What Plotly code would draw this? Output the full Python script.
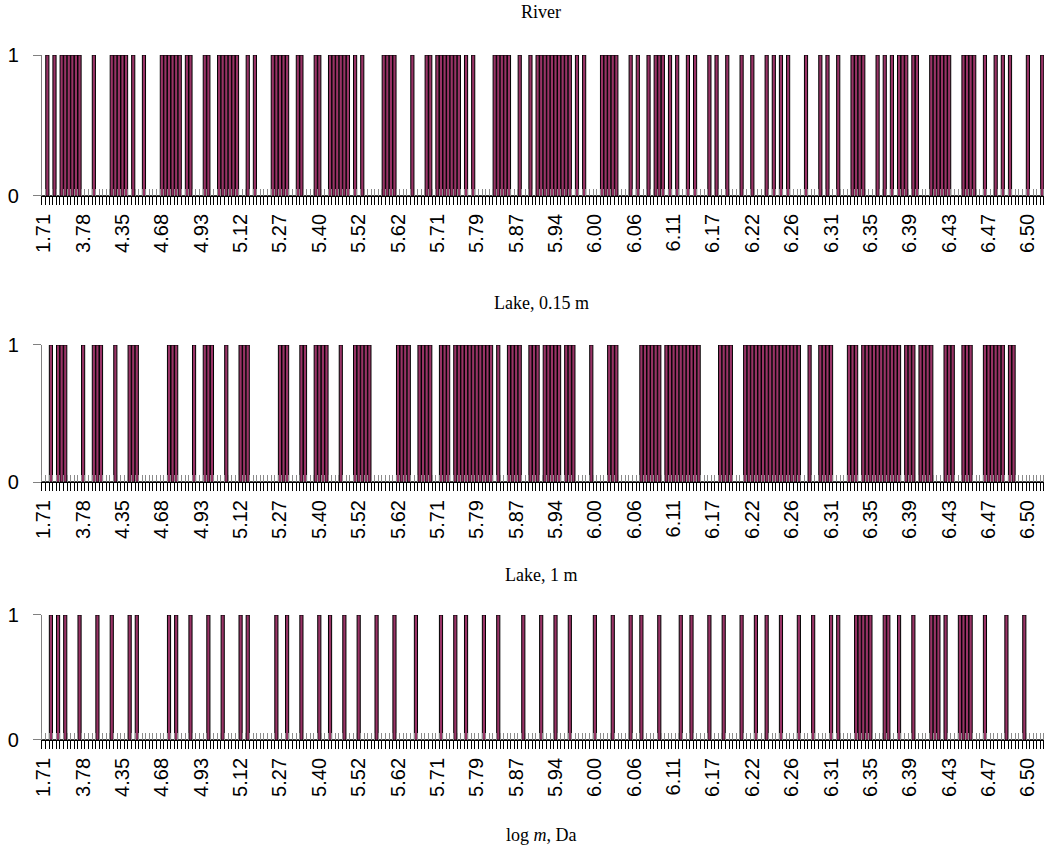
import plotly.graph_objects as go

# Molecular-weight fractions (log m, Da) along the category axis
N_FRACTIONS = 280
LABEL_STEP = 11
tick_labels = ["1.71", "3.78", "4.35", "4.68", "4.93", "5.12", "5.27", "5.40", "5.52",
               "5.62", "5.71", "5.79", "5.87", "5.94", "6.00", "6.06", "6.11", "6.17",
               "6.22", "6.26", "6.31", "6.35", "6.39", "6.43", "6.47", "6.50"]

panel_titles = ["River", "Lake, 0.15 m", "Lake, 1 m"]

# Fractions in which a component was detected (presence = 1)
river_present = [1, 3, 5, 6, 7, 8, 9, 10, 14, 19, 20, 21, 22, 23, 25, 28, 33, 34, 35, 36,
                 37, 38, 40, 41, 45, 46, 49, 50, 51, 52, 53, 54, 57, 59, 64, 65, 66, 67,
                 68, 71, 72, 76, 77, 80, 81, 82, 83, 84, 85, 87, 89, 95, 96, 97, 98, 103,
                 107, 108, 110, 111, 112, 113, 114, 115, 116, 118, 120, 126, 127, 128,
                 129, 130, 133, 136, 138, 139, 140, 141, 142, 143, 144, 145, 146, 147,
                 149, 151, 156, 157, 158, 159, 160, 164, 166, 169, 171, 172, 173, 175,
                 177, 180, 182, 186, 188, 191, 195, 198, 202, 204, 206, 208, 213, 217,
                 219, 222, 226, 227, 228, 229, 233, 235, 237, 239, 240, 241, 243, 244,
                 248, 249, 250, 251, 252, 253, 257, 258, 259, 260, 263, 266, 268, 270,
                 275, 279]

lake015_present = [2, 4, 5, 6, 11, 14, 15, 16, 20, 24, 25, 26, 35, 36, 37, 42, 45, 46, 47,
                   51, 55, 56, 57, 66, 67, 68, 72, 73, 76, 77, 78, 79, 83, 87, 88, 89, 90,
                   91, 99, 100, 101, 102, 105, 106, 107, 108, 111, 112, 113, 115, 116,
                   117, 118, 119, 120, 121, 122, 123, 124, 125, 127, 130, 131, 132, 133,
                   136, 137, 138, 140, 141, 142, 143, 144, 146, 147, 148, 153, 158, 159,
                   160, 167, 168, 169, 170, 171, 172, 174, 175, 176, 177, 178, 179, 180,
                   181, 182, 183, 189, 190, 191, 192, 196, 197, 198, 199, 200, 201, 202,
                   203, 204, 205, 206, 207, 208, 209, 210, 211, 214, 217, 218, 219, 220,
                   225, 226, 227, 229, 230, 231, 232, 233, 234, 235, 236, 237, 238, 239,
                   241, 242, 243, 245, 246, 247, 248, 252, 253, 254, 257, 258, 259, 263,
                   264, 265, 266, 267, 268, 270, 271]

lake1_present = [2, 4, 6, 10, 15, 19, 24, 26, 35, 37, 41, 46, 50, 55, 57, 65, 68, 72, 77,
                 80, 84, 88, 93, 98, 104, 111, 115, 118, 123, 127, 134, 139, 143, 147, 154,
                 159, 164, 167, 172, 178, 181, 186, 190, 195, 199, 202, 206, 211, 215, 220,
                 222, 227, 228, 229, 230, 231, 235, 236, 239, 243, 248, 249, 250, 252, 256,
                 257, 258, 259, 263, 269, 274]

PLUM = "#993366"
TICK_FONT = dict(family="Liberation Sans, Arial, sans-serif", size=20, color="black")
TITLE_FONT = dict(family="Liberation Serif, Times New Roman, serif", size=18, color="black")

fractions = list(range(N_FRACTIONS))
tick_positions = [k * LABEL_STEP for k in range(len(tick_labels))]


def presence(indices):
    hits = set(indices)
    return [1 if i in hits else 0 for i in fractions]


series = [presence(river_present), presence(lake015_present), presence(lake1_present)]

# Plot areas in paper fractions (x from the y-axis line to the right edge)
X_DOMAIN = [0.0402, 1.0]
Y_DOMAINS = [(0.7689, 0.9351), (0.4316, 0.5932), (0.1274, 0.2748)]

fig = go.Figure()
layout = dict(
    width=1044, height=848,
    margin=dict(l=0, r=0, t=0, b=0),
    paper_bgcolor="white", plot_bgcolor="white",
    showlegend=False, bargap=0.12,
)

for k, (vals, ydom) in enumerate(zip(series, Y_DOMAINS)):
    n = "" if k == 0 else str(k + 1)
    over = str(k + 4)
    fig.add_trace(go.Bar(
        x=fractions, y=vals, xaxis="x" + n, yaxis="y" + n,
        marker=dict(color=PLUM, line=dict(color="black", width=1)),
        hoverinfo="skip",
    ))
    # empty trace so the companion tick axis gets its own subplot
    fig.add_trace(go.Scatter(x=[], y=[], xaxis="x" + over, yaxis="y" + n,
                             mode="markers", hoverinfo="skip"))
    layout["xaxis" + n] = dict(
        domain=X_DOMAIN, anchor="y" + n, range=[-0.5, N_FRACTIONS - 0.5],
        tickmode="array", tickvals=tick_positions, ticktext=tick_labels,
        tickangle=-90, ticks="", tickfont=TICK_FONT, ticklabelstandoff=9,
        showline=True, linecolor="black", linewidth=1,
        showgrid=False, zeroline=False, automargin=False, fixedrange=True,
        minor=dict(ticks="outside", tick0=-0.5, dtick=1, ticklen=8,
                   tickwidth=1, tickcolor="black", showgrid=False),
    )
    # companion axis that draws the upper half of the crossing tick marks
    layout["xaxis" + over] = dict(
        overlaying="x" + n, anchor="y" + n, side="bottom",
        range=[-0.5, N_FRACTIONS - 0.5], showticklabels=False, ticks="",
        showline=False, showgrid=False, zeroline=False, fixedrange=True,
        minor=dict(ticks="inside", tick0=-0.5, dtick=1, ticklen=7,
                   tickwidth=1, tickcolor="#8c8c8c", showgrid=False),
    )
    layout["yaxis" + n] = dict(
        domain=list(ydom), anchor="x" + n, range=[0, 1],
        tickmode="array", tickvals=[0, 1], ticktext=["0", "1"],
        ticks="outside", ticklen=8, tickcolor="#808080", tickwidth=1,
        tickfont=TICK_FONT, ticklabelstandoff=10,
        showline=True, linecolor="#808080", linewidth=1,
        showgrid=False, zeroline=False, automargin=False, fixedrange=True,
    )

annotations = []
title_y = [1 - 12 / 848, 1 - 303 / 848, 1 - 575 / 848]
for text, ty in zip(panel_titles, title_y):
    annotations.append(dict(text=text, x=0.5185, y=ty, xref="paper", yref="paper",
                            xanchor="center", yanchor="middle", showarrow=False,
                            font=TITLE_FONT))
annotations.append(dict(text="log <i>m</i>, Da", x=0.5185, y=1 - 835 / 848,
                        xref="paper", yref="paper", xanchor="center", yanchor="middle",
                        showarrow=False, font=TITLE_FONT))
layout["annotations"] = annotations

fig.update_layout(**layout)
fig.write_html("out.html")
